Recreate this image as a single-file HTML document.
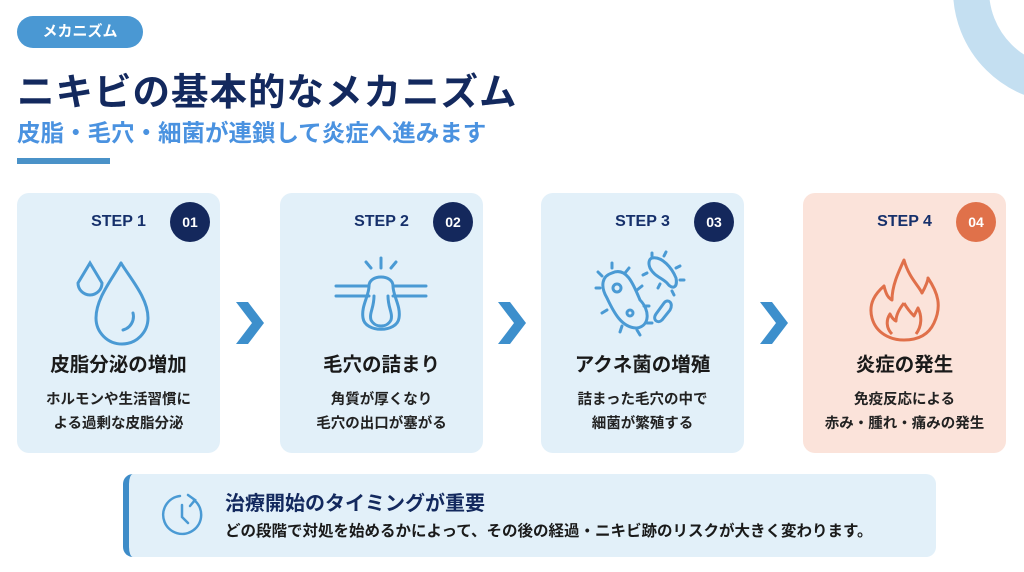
<!DOCTYPE html>
<html><head><meta charset="utf-8"><style>
*{margin:0;padding:0;box-sizing:border-box}
body{width:1024px;height:572px;background:#fff;position:relative;overflow:hidden;font-family:"Liberation Sans","Noto Sans CJK JP",sans-serif;font-weight:bold}
.a{position:absolute}
.pill{left:17px;top:16px;width:126px;height:32px;border-radius:16px;background:#4a98d3;color:#fff;font-size:15px;text-align:center;line-height:32px}
.h1{left:17px;top:61px;font-size:37.5px;color:#13295e;letter-spacing:1px;white-space:nowrap}
.h2{left:17px;top:114px;font-size:23.5px;color:#4a92e0;white-space:nowrap}
.bar{left:17px;top:158px;width:93px;height:6px;background:#4a92c8}
.card{top:193px;width:203px;height:260px;border-radius:12px;background:#e2f0f9}
.card.r{background:#fbe3da}
.step{position:absolute;top:20px;left:0;width:203px;text-align:center;font-size:16px;color:#16306b;font-family:"Liberation Sans",sans-serif}
.badge{position:absolute;top:9px;left:153px;width:40px;height:40px;border-radius:50%;background:#14285c;color:#fff;font-size:14px;text-align:center;line-height:40px;font-family:"Liberation Sans",sans-serif}
.card.r .badge{background:#e0714a}
.t{position:absolute;top:155px;left:0;width:203px;text-align:center;font-size:19.5px;color:#1a1a1a}
.d{position:absolute;top:195px;left:0;width:203px;text-align:center;font-size:14.5px;line-height:24px;color:#222;white-space:nowrap}
.ic{position:absolute;left:51px;top:55px}
.chev{top:302px}
</style></head><body>
<svg class="a" style="left:0;top:0" width="1024" height="572"><circle cx="1066" cy="-10" r="95" fill="none" stroke="#c4dff1" stroke-width="36"/></svg>
<div class="a pill">メカニズム</div>
<div class="a h1">ニキビの基本的なメカニズム</div>
<div class="a h2">皮脂・毛穴・細菌が連鎖して炎症へ進みます</div>
<div class="a bar"></div>

<div class="a card" style="left:17px"><div class="step">STEP 1</div><div class="badge">01</div>
<svg class="ic" width="100" height="100" viewBox="0 0 100 100" fill="none" stroke="#4a9ad4" stroke-width="3" stroke-linecap="round"><path d="M22 15 L10 35 A11 11 0 1 0 34 35 Z"/><path d="M53 15 C45 30 28 50 28 70 A26 26 0 0 0 80 70 C80 50 62 30 53 15"/><path d="M65 65 A14 14 0 0 1 55 82"/></svg>
<div class="t">皮脂分泌の増加</div><div class="d">ホルモンや生活習慣に<br>よる過剰な皮脂分泌</div></div>

<div class="a card" style="left:280px"><div class="step">STEP 2</div><div class="badge">02</div>
<svg class="ic" width="100" height="100" viewBox="0 0 100 100" fill="none" stroke="#4a9ad4" stroke-width="3" stroke-linecap="round"><path d="M5 38 H38 M62 38 H95 M5 48 H38 M62 48 H95"/><path d="M38 38 C38 26 62 26 62 38 C62 48 70 58 68 70 C66 85 34 85 32 70 C30 58 38 48 38 38"/><path d="M43 48 C43 60 38 65 40 72 C44 80 56 80 60 72 C62 65 57 60 57 48"/><path d="M50 10 V20 M35 14 L40 20 M65 14 L60 20"/></svg>
<div class="t">毛穴の詰まり</div><div class="d">角質が厚くなり<br>毛穴の出口が塞がる</div></div>

<div class="a card" style="left:541px"><div class="step">STEP 3</div><div class="badge">03</div>
<svg class="ic" width="100" height="100" viewBox="0 0 100 100" fill="none" stroke="#4a9ad4" stroke-width="3" stroke-linecap="round"><path d="M20 25 C35 18 42 38 48 52 C58 62 58 78 45 80 C30 80 22 65 15 50 C8 38 10 28 20 25Z"/><circle cx="25" cy="40" r="4"/><circle cx="38" cy="65" r="3"/><path d="M8 40 H4 M10 28 L6 24 M20 20 V15 M33 25 L37 20 M45 42 L50 38 M52 58 H57 M55 75 H60 M45 82 L48 87 M30 78 L28 84 M15 62 L10 65"/><path d="M60 10 C70 8 80 20 84 30 C86 40 80 42 75 35 C70 30 62 28 58 20 C56 15 57 11 60 10Z"/><path d="M60 5 V8 M72 8 L74 4 M84 20 L88 18 M88 32 H92 M80 43 L82 47 M68 36 L66 40 M55 25 L51 27"/><path d="M72 55 C76 50 82 55 78 62 L70 72 C66 76 60 72 64 66Z"/></svg>
<div class="t">アクネ菌の増殖</div><div class="d">詰まった毛穴の中で<br>細菌が繁殖する</div></div>

<div class="a card r" style="left:803px"><div class="step">STEP 4</div><div class="badge">04</div>
<svg class="ic" width="100" height="100" viewBox="0 0 100 100" fill="none" stroke="#e0704a" stroke-width="3" stroke-linejoin="round"><path d="M50 12 C55 30 65 38 68 45 C72 38 74 32 74 30 C84 45 88 58 80 75 C74 88 62 92 50 92 C36 92 22 85 18 70 C14 55 22 45 30 38 C32 46 34 50 38 52 C38 38 44 25 50 12Z"/><path d="M50 55 C54 62 58 66 60 68 C62 64 63 62 64 60 C68 68 68 78 62 86 M38 86 C32 80 32 72 36 66 C38 70 40 72 42 73 C42 66 46 60 50 55"/></svg>
<div class="t">炎症の発生</div><div class="d">免疫反応による<br>赤み・腫れ・痛みの発生</div></div>

<svg class="a chev" style="left:236px" width="30" height="42"><path d="M0 0 H12 L28 21 L12 42 H0 L16 21Z" fill="#3d8fcc"/></svg>
<svg class="a chev" style="left:498px" width="30" height="42"><path d="M0 0 H12 L28 21 L12 42 H0 L16 21Z" fill="#3d8fcc"/></svg>
<svg class="a chev" style="left:760px" width="30" height="42"><path d="M0 0 H12 L28 21 L12 42 H0 L16 21Z" fill="#3d8fcc"/></svg>

<div class="a" style="left:123px;top:474px;width:813px;height:83px;border-radius:10px;background:#e2f0f9;border-left:6px solid #3e8cc8"></div>
<svg class="a" style="left:160px;top:492px" width="46" height="46" fill="none" stroke="#4a9ad4" stroke-width="2.5" stroke-linecap="round"><path d="M34 8 A19 19 0 1 1 20 4"/><path d="M28 3 L35 8 L30 14"/><path d="M22 13 V25 L28 31"/></svg>
<div class="a" style="left:225px;top:487px;font-size:20px;color:#13295e;white-space:nowrap">治療開始のタイミングが重要</div>
<div class="a" style="left:225px;top:519px;font-size:15.5px;color:#1a1a1a;white-space:nowrap">どの段階で対処を始めるかによって、その後の経過・ニキビ跡のリスクが大きく変わります。</div>
</body></html>
